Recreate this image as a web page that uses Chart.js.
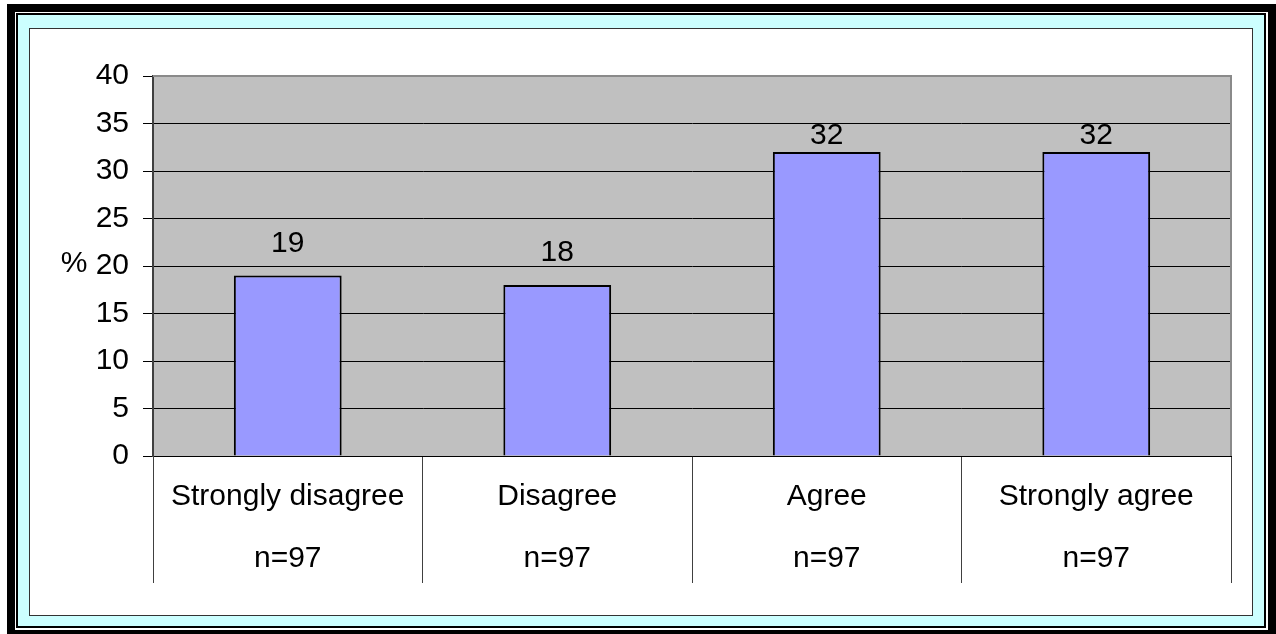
<!DOCTYPE html>
<html><head><meta charset="utf-8">
<script src="https://cdn.jsdelivr.net/npm/chart.js@4.4.0/dist/chart.umd.min.js"></script>
<style>
html,body{margin:0;padding:0;background:#fff;width:1276px;height:634px;overflow:hidden;}
.box{position:absolute;box-sizing:border-box;}
</style></head><body>
<div class="box" style="left:7px;top:4px;width:1269px;height:630px;background:#000"></div>
<div class="box" style="left:15px;top:12px;width:1253px;height:618px;background:#fff"></div>
<div class="box" style="left:16px;top:13px;width:1250px;height:615px;background:#000"></div>
<div class="box" style="left:18px;top:15px;width:1246px;height:611px;background:#ccffff"></div>
<div class="box" style="left:29px;top:28px;width:1224px;height:588px;background:#fff;border:1px solid #333"></div>
<canvas id="c" width="1222" height="586" style="position:absolute;left:30px;top:29px"></canvas>
<script>
const categories = ['Strongly disagree', 'Disagree', 'Agree', 'Strongly agree'];
const sampleSizes = ['n=97', 'n=97', 'n=97', 'n=97'];
const percentValues = [19, 18, 32, 32];
const yMin = 0, yMax = 40, yStep = 5;
const yAxisTitle = '%';

const FONT = "'Liberation Sans', Arial, sans-serif";
const FS = 30;
const labels = categories.map((c, i) => [c, sampleSizes[i]]);

const plotBg = {
  id: 'plotBg',
  beforeDraw(chart) {
    const {ctx, chartArea: a} = chart;
    ctx.save();
    ctx.fillStyle = '#C0C0C0';
    ctx.fillRect(a.left, a.top, a.right - a.left, a.bottom - a.top);
    ctx.restore();
  },
  afterDraw(chart) {
    const {ctx, chartArea: a} = chart;
    ctx.save();
    ctx.strokeStyle = '#8a8a8a';
    ctx.lineWidth = 2;
    ctx.beginPath();
    ctx.moveTo(a.left, a.top);
    ctx.lineTo(a.right, a.top);
    ctx.lineTo(a.right, a.bottom);
    ctx.stroke();
    ctx.fillStyle = '#000';
    ctx.font = FS + 'px ' + FONT;
    ctx.textAlign = 'center';
    ctx.textBaseline = 'middle';
    ctx.fillText(yAxisTitle, 44, (a.top + a.bottom) / 2 - 2);
    ctx.restore();
  }
};

const valueLabels = {
  id: 'valueLabels',
  afterDatasetsDraw(chart, args, opts) {
    const {ctx} = chart;
    const meta = chart.getDatasetMeta(0);
    ctx.save();
    ctx.fillStyle = '#000';
    ctx.font = FS + 'px ' + FONT;
    ctx.textAlign = 'center';
    ctx.textBaseline = 'middle';
    meta.data.forEach((bar, i) => {
      const off = opts.offsets[i] ?? 24;
      ctx.fillText(String(chart.data.datasets[0].data[i]), bar.x, bar.y - off);
    });
    ctx.restore();
  }
};

new Chart(document.getElementById('c'), {
  type: 'bar',
  data: {
    labels: labels,
    datasets: [{
      data: percentValues,
      backgroundColor: '#9999FF',
      borderColor: '#000',
      borderWidth: 2,
      categoryPercentage: 1.0,
      barPercentage: 0.4
    }]
  },
  options: {
    responsive: false,
    animation: false,
    devicePixelRatio: 1,
    layout: {padding: {left: 0, top: 47, right: 21, bottom: 0}},
    plugins: {
      legend: {display: false},
      tooltip: {enabled: false},
      valueLabels: {offsets: [32, 32, 16, 16]}
    },
    scales: {
      x: {
        grid: {offset: true, drawOnChartArea: false, tickLength: 127, color: '#404040', lineWidth: 1},
        border: {display: true, color: '#000', width: 1},
        ticks: {color: '#000', font: {family: FONT, size: FS, lineHeight: 62 / FS}, padding: -117, maxRotation: 0, autoSkip: false},
        afterFit(s) { s.height = 159; }
      },
      y: {
        min: yMin, max: yMax,
        ticks: {stepSize: yStep, color: '#000', font: {family: FONT, size: FS}, padding: 14},
        grid: {
          color: c => (c.tick && c.tick.value === yMax) ? '#8a8a8a' : '#000',
          tickColor: '#000',
          tickLength: 10,
          lineWidth: 1
        },
        border: {color: '#404040', width: 2},
        afterFit(s) { s.width = 123; }
      }
    }
  },
  plugins: [plotBg, valueLabels]
});
</script>
</body></html>
